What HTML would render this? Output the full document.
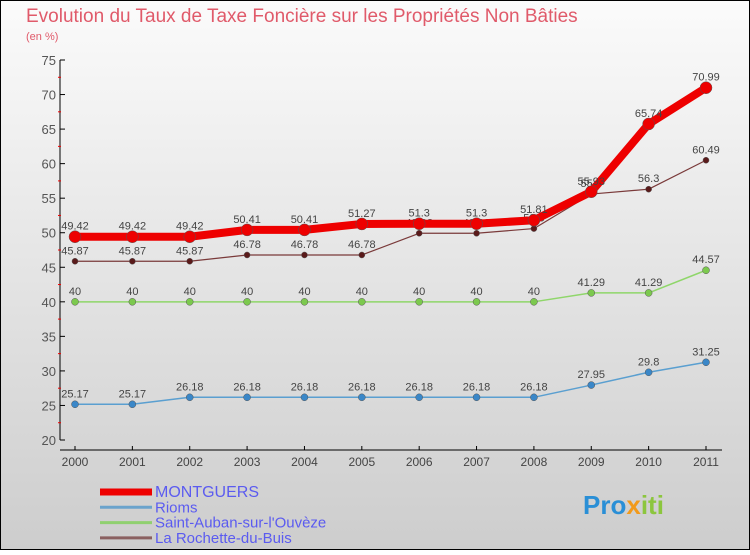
<!DOCTYPE html>
<html><head><meta charset="utf-8"><style>
html,body{margin:0;padding:0}
body{width:750px;height:550px;overflow:hidden;font-family:"Liberation Sans",sans-serif}
</style></head><body>
<svg width="750" height="550" xmlns="http://www.w3.org/2000/svg" font-family="Liberation Sans, sans-serif">
<defs><linearGradient id="bg" x1="0" y1="0" x2="0" y2="1"><stop offset="0" stop-color="#fbfbfb"/><stop offset="1" stop-color="#cdcdcd"/></linearGradient></defs>
<rect x="0.5" y="0.5" width="749" height="549" fill="url(#bg)" stroke="#000"/>
<text x="26" y="22" font-size="19" fill="#e05a6a">Evolution du Taux de Taxe Foncière sur les Propriétés Non Bâties</text>
<text x="26" y="40" font-size="11" fill="#e05a6a">(en %)</text>
<g id="axes"></g>
<g id="series"></g>
<g id="legend"></g>
<text x="583" y="514" font-size="26" font-weight="bold" fill="#2a8fd6">Pro<tspan fill="#f29a1a">x</tspan><tspan fill="#8cc63e">iti</tspan></text>
</svg>
<script>
const years=["2000","2001","2002","2003","2004","2005","2006","2007","2008","2009","2010","2011"];
const yTicks=[20,25,30,35,40,45,50,55,60,65,70,75];
const montguers=[49.42,49.42,49.42,50.41,50.41,51.27,51.3,51.3,51.81,55.93,65.74,70.99];
const rioms=[25.17,25.17,26.18,26.18,26.18,26.18,26.18,26.18,26.18,27.95,29.8,31.25];
const saintAuban=[40,40,40,40,40,40,40,40,40,41.29,41.29,44.57];
const rochette=[45.87,45.87,45.87,46.78,46.78,46.78,49.92,49.92,50.6,55.6,56.3,60.49];
const NS="http://www.w3.org/2000/svg";
const xs=i=>75+i*(706-75)/11;
const ys=v=>440-(v-20)*(380/55);
function mk(tag,attrs,parent,txt){const e=document.createElementNS(NS,tag);for(const k in attrs)e.setAttribute(k,attrs[k]);if(txt!==undefined)e.textContent=txt;parent.appendChild(e);return e;}
const ax=document.getElementById('axes');
let l=mk('line',{x1:60,y1:60,x2:60,y2:440,stroke:'#000'},ax);


l=mk('line',{x1:60,y1:450,x2:722,y2:450,stroke:'#000'},ax);


yTicks.forEach((v,i)=>{
  mk('line',{x1:60,y1:ys(v),x2:65,y2:ys(v),stroke:'#000'},ax);
  if(i<yTicks.length-1)mk('line',{x1:58,y1:ys(v+2.5),x2:61,y2:ys(v+2.5),stroke:'#e00'},ax);
  const t=mk('text',{x:56,y:ys(v)+5,'font-size':13,fill:'#555','text-anchor':'end'},ax,String(v));
  
  
});
years.forEach((y,i)=>{
  mk('line',{x1:xs(i),y1:446,x2:xs(i),y2:450,stroke:'#000'},ax);
  const t=mk('text',{x:xs(i),y:466,'font-size':12,fill:'#444','text-anchor':'middle'},ax,y);
  
  
});
const sg=document.getElementById('series');
function drawSeries(arr,color,w,r,name,dot){
  const g=mk('g',{},sg);
  
  
  const p=mk('polyline',{points:arr.map((v,i)=>xs(i)+','+ys(v)).join(' '),fill:'none',stroke:color,'stroke-width':w,'stroke-linejoin':'round'},g);
  
  
  arr.forEach((v,i)=>{
    const c=mk('circle',{cx:xs(i),cy:ys(v),r:r,fill:dot,stroke:'#555','stroke-width':0.5},g);
    
    
    const t=mk('text',{x:xs(i),y:ys(v)-7,'font-size':11,fill:'#444','text-anchor':'middle'},g,String(v));
    
    
  });
}
drawSeries(rioms,'#5a9fd0',1.5,3.5,'rioms','#3a87c8');
drawSeries(saintAuban,'#8fd66a',1.5,3.5,'saint-auban','#7cc94e');
drawSeries(rochette,'#7a3a3a',1.2,3,'la-rochette','#5a1a1a');
drawSeries(montguers,'#ee0000',8,6,'montguers','#ee0000');
const lg=document.getElementById('legend');
const items=[["MONTGUERS","#ee0000",7,16],["Rioms","#6aa3cc",3,15],["Saint-Auban-sur-l'Ouvèze","#90d070",3,15],["La Rochette-du-Buis","#8a6060",3,15]];
items.forEach((it,i)=>{
  const y=492+i*15.3;
  const g=mk('g',{},lg);
  
  
  mk('line',{x1:100,y1:y,x2:152,y2:y,stroke:it[1],'stroke-width':it[2]},g);
  mk('text',{x:155,y:y+5,'font-size':it[3],fill:'#5b5bf0'},g,it[0]);
});
</script>
</body></html>
